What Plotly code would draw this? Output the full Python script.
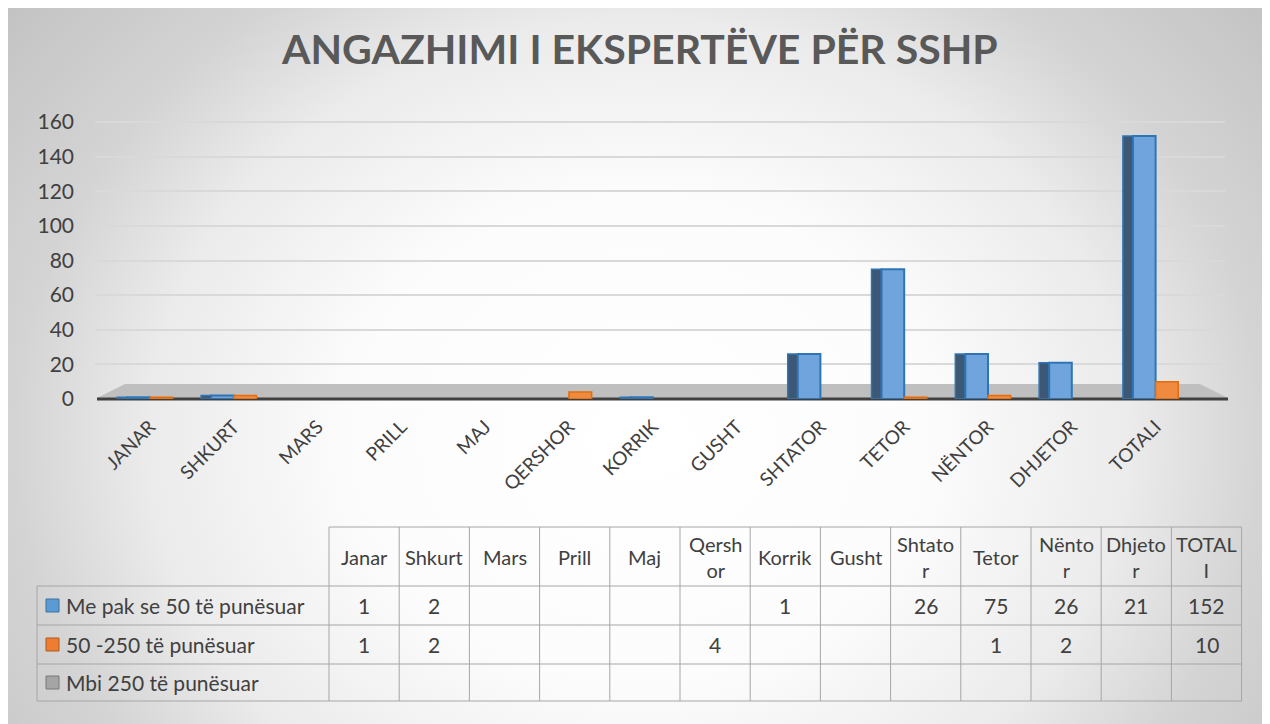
import base64
import plotly.graph_objects as go

# ---------------- data ----------------
months = ["Janar", "Shkurt", "Mars", "Prill", "Maj", "Qershor", "Korrik",
          "Gusht", "Shtator", "Tetor", "Nëntor", "Dhjetor", "TOTALI"]
header_labels = ["Janar", "Shkurt", "Mars", "Prill", "Maj", "Qersh<br>or", "Korrik",
                 "Gusht", "Shtato<br>r", "Tetor", "Nënto<br>r", "Dhjeto<br>r", "TOTAL<br>I"]
series_names = ["Me pak se 50 të punësuar", "50 -250 të punësuar", "Mbi 250 të punësuar"]
small = [1, 2, None, None, None, None, 1, None, 26, 75, 26, 21, 152]
medium = [1, 2, None, None, None, 4, None, None, None, 1, 2, None, 10]
large = [None] * 13
y_ticks = [0, 20, 40, 60, 80, 100, 120, 140, 160]
title = "ANGAZHIMI I EKSPERTËVE PËR SSHP"

# ---------------- geometry (screen pixels; page body has an 8px margin) ----------------
OFF = 8
W, H = 1262, 716
PL, PR, PT, PB = 95, 1225, 115, 399          # plot area on screen
L, R, T, B = PL - OFF, W - (PR - OFF), PT - OFF, H - (PB - OFF)
PW, PH = PR - PL, PB - PT
FONT = "Lato"
TXT = "#404040"


def px(x):
    return (x - PL) / PW


def py(y):
    return (PB - y) / PH


x_idx = list(range(len(months)))

fig = go.Figure()
fig.add_trace(go.Bar(x=x_idx, y=small, offset=-0.39, width=0.12,
                     marker=dict(color="#3d5874", line=dict(color="#2f75b5", width=1.5)),
                     showlegend=False, hoverinfo="skip"))
fig.add_trace(go.Bar(x=x_idx, y=small, offset=-0.27, width=0.27, name=series_names[0],
                     marker=dict(color="#6fa5dc", line=dict(color="#2f75b5", width=2)),
                     showlegend=False))
fig.add_trace(go.Bar(x=x_idx, y=medium, offset=0.0, width=0.27, name=series_names[1],
                     marker=dict(color="#f08a3e", line=dict(color="#e46c0a", width=1.5)),
                     showlegend=False))
fig.add_trace(go.Bar(x=x_idx, y=large, offset=0.27, width=0.27, name=series_names[2],
                     marker=dict(color="#a5a5a5"), showlegend=False))

# ---------------- background ----------------
svg = f"""<svg xmlns='http://www.w3.org/2000/svg' width='{W}' height='{H}' viewBox='0 0 {W} {H}' preserveAspectRatio='none'>
<defs><radialGradient id='g' cx='0.5' cy='0.6' r='0.65'
 gradientTransform='translate(0.5,0.6) scale(1,1.5) translate(-0.5,-0.6)'>
<stop offset='0' stop-color='#ffffff'/><stop offset='0.35' stop-color='#fcfcfc'/>
<stop offset='0.6' stop-color='#ebebeb'/><stop offset='0.76' stop-color='#d4d4d4'/>
<stop offset='1' stop-color='#c2c2c2'/></radialGradient></defs>
<rect x='0' y='0' width='{W}' height='{H}' fill='url(#g)'/>
</svg>"""
uri = "data:image/svg+xml;base64," + base64.b64encode(svg.encode()).decode()

shapes = []
shapes.append(dict(type="path", xref="paper", yref="paper", layer="below",
                   path=f"M {px(97)},{py(398)} L {px(125)},{py(384)} L {px(1200)},{py(384)} L {px(1228)},{py(398)} Z",
                   fillcolor="#bfbfbf", line=dict(width=0)))
shapes.append(dict(type="line", xref="paper", yref="paper", layer="below",
                   x0=px(97), x1=px(1228), y0=py(399), y1=py(399),
                   line=dict(color="#404040", width=3)))

# ---------------- table ----------------
col0 = 329
cw = 70.2
cols = [col0 + cw * k for k in range(len(months) + 1)]
rows = [527, 586, 625, 664, 701]
lx0 = 37
lc = "#a6a6a6"
shapes.append(dict(type="line", xref="paper", yref="paper", x0=px(col0), x1=px(cols[-1]),
                   y0=py(rows[0]), y1=py(rows[0]), line=dict(color=lc, width=1)))
for r in rows[1:]:
    shapes.append(dict(type="line", xref="paper", yref="paper", x0=px(lx0), x1=px(cols[-1]),
                       y0=py(r), y1=py(r), line=dict(color=lc, width=1)))
shapes.append(dict(type="line", xref="paper", yref="paper", x0=px(lx0), x1=px(lx0),
                   y0=py(rows[1]), y1=py(rows[-1]), line=dict(color=lc, width=1)))
for c in cols:
    shapes.append(dict(type="line", xref="paper", yref="paper", x0=px(c), x1=px(c),
                       y0=py(rows[0]), y1=py(rows[-1]), line=dict(color=lc, width=1)))

TS = 21
annotations = [dict(text=f"<b>{title}</b>", xref="paper", yref="paper", x=px(639), y=py(48),
                    showarrow=False, font=dict(family=FONT, size=41, color="#595959"),
                    xanchor="center", yanchor="middle")]
for k, h in enumerate(header_labels):
    annotations.append(dict(text=h, xref="paper", yref="paper", x=px((cols[k] + cols[k + 1]) / 2),
                            y=py((rows[0] + rows[1]) / 2), showarrow=False,
                            font=dict(family=FONT, size=20, color=TXT),
                            xanchor="center", yanchor="middle"))
sq_colors = [("#5b9bd5", "#41719c"), ("#ed7d31", "#ae5a21"), ("#a5a5a5", "#787878")]
for ri, (name, vals) in enumerate(zip(series_names, [small, medium, large])):
    yc = (rows[ri + 1] + rows[ri + 2]) / 2
    shapes.append(dict(type="rect", xref="paper", yref="paper", x0=px(46), x1=px(59),
                       y0=py(yc - 6.5), y1=py(yc + 6.5), fillcolor=sq_colors[ri][0],
                       line=dict(color=sq_colors[ri][1], width=1)))
    annotations.append(dict(text=name, xref="paper", yref="paper", x=px(64), y=py(yc),
                            showarrow=False, font=dict(family=FONT, size=TS, color=TXT),
                            xanchor="left", yanchor="middle"))
    for k, v in enumerate(vals):
        if v is None:
            continue
        annotations.append(dict(text=str(v), xref="paper", yref="paper",
                                x=px((cols[k] + cols[k + 1]) / 2), y=py(yc), showarrow=False,
                                font=dict(family=FONT, size=TS, color=TXT),
                                xanchor="center", yanchor="middle"))

x0_data = (PL - 150) / 83.8
x1_data = (PR - 150) / 83.8

fig.update_layout(
    width=W, height=H,
    margin=dict(l=L, r=R, t=T, b=B, pad=0),
    paper_bgcolor="white", plot_bgcolor="rgba(0,0,0,0)",
    barmode="overlay",
    font=dict(family=FONT, color=TXT),
    images=[dict(source=uri, xref="paper", yref="paper", x=px(OFF), y=py(OFF),
                 sizex=W / PW, sizey=H / PH, sizing="stretch", layer="below",
                 xanchor="left", yanchor="top")],
    shapes=shapes,
    annotations=annotations,
    xaxis=dict(range=[x0_data, x1_data], tickvals=x_idx, ticktext=[m.upper() for m in months],
               tickangle=-45, showgrid=False, zeroline=False, showline=False,
               tickfont=dict(family=FONT, size=19, color=TXT), ticks="",
               ticklabelstandoff=12),
    yaxis=dict(range=[0, PH / 1.731], tickvals=y_ticks, showgrid=True,
               gridcolor="#d9d9d9", gridwidth=1.5, zeroline=False, showline=False,
               tickfont=dict(family=FONT, size=21, color=TXT), ticks="",
               ticklabelstandoff=20),
)

fig.write_html("out.html")
